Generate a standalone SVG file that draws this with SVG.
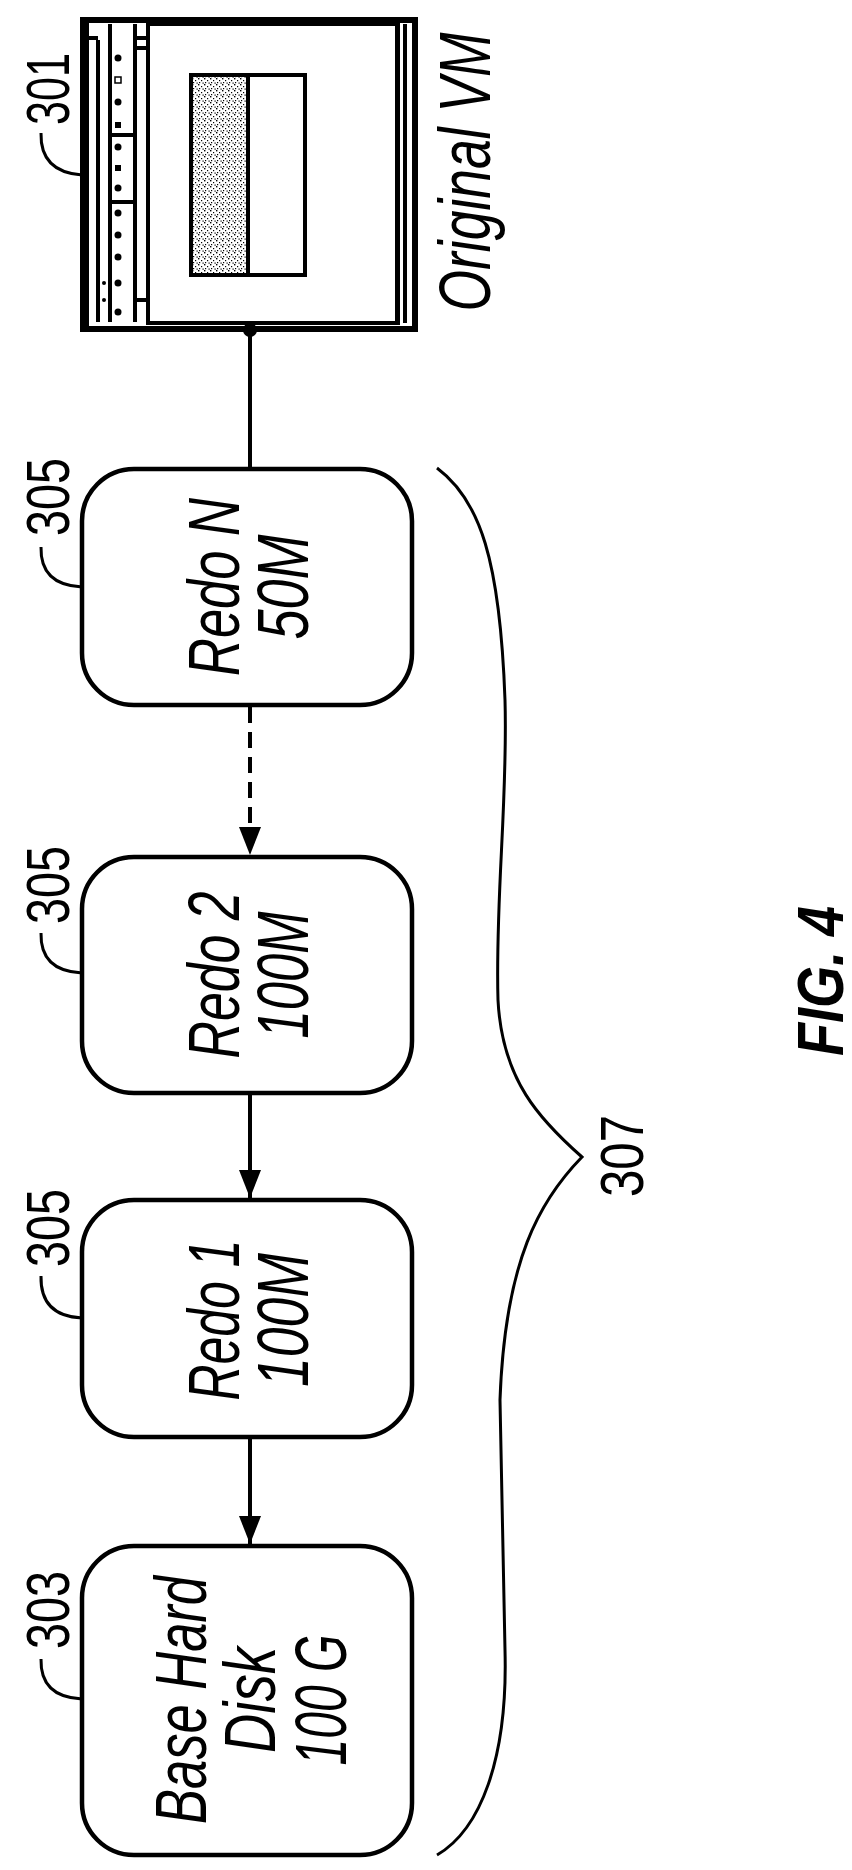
<svg xmlns="http://www.w3.org/2000/svg" width="852" height="1870" viewBox="0 0 852 1870">
<style>
.t{font-family:"Liberation Sans",Arial,sans-serif;font-style:italic;font-size:72px;fill:#000}
.r{font-family:"Liberation Sans",Arial,sans-serif;font-size:62px;fill:#000}
.box{fill:#fff;stroke:#000;stroke-width:4.5}
.ln{fill:none;stroke:#000;stroke-width:4}
.lead{fill:none;stroke:#000;stroke-width:3}
</style>
<defs>
<marker id="ah" viewBox="0 0 28 22" refX="28" refY="11" markerWidth="28" markerHeight="22" markerUnits="userSpaceOnUse" orient="auto">
<path d="M0 0 L28 11 L0 22 Z" fill="#000"/>
</marker>
<pattern id="stip" width="6" height="6" patternUnits="userSpaceOnUse">
<rect width="6" height="6" fill="#fff"/>
<rect x="0" y="0" width="1.4" height="1.4" fill="#000"/>
<rect x="3" y="2" width="1.2" height="1.2" fill="#000"/>
<rect x="1" y="4" width="1.2" height="1.2" fill="#000"/>
<rect x="4.5" y="4.5" width="1.2" height="1.2" fill="#000"/>
</pattern>
</defs>

<g id="vm">
<rect x="83" y="20" width="332" height="309" fill="#fff" stroke="#000" stroke-width="6"/>
<rect x="83" y="20" width="6" height="309" fill="#000"/>
<line x1="98" y1="40" x2="98" y2="322" class="ln" stroke-width="2"/>
<line x1="110" y1="24" x2="110" y2="322" class="ln" stroke-width="2"/>
<line x1="135" y1="24" x2="135" y2="322" class="ln" stroke-width="2"/>
<rect x="148" y="24" width="250" height="299" fill="#fff" stroke="#000" stroke-width="4"/>
<line x1="110" y1="135" x2="135" y2="135" class="ln" stroke-width="2"/>
<line x1="110" y1="202" x2="135" y2="202" class="ln" stroke-width="2"/>
<line x1="135" y1="300" x2="148" y2="300" class="ln" stroke-width="3"/>
<line x1="135" y1="38" x2="148" y2="38" class="ln" stroke-width="2"/>
<line x1="135" y1="48" x2="148" y2="48" class="ln" stroke-width="2"/>
<line x1="89" y1="38" x2="98" y2="38" class="ln" stroke-width="2"/>
<rect x="404" y="87" width="3" height="4" fill="#000"/>
<rect x="404" y="96" width="3" height="4" fill="#000"/>
<line x1="397" y1="24" x2="397" y2="323" class="ln" stroke-width="2"/>
<line x1="405" y1="24" x2="405" y2="323" class="ln" stroke-width="2"/>
<g fill="#000">
<circle cx="118" cy="58" r="3.5"/>
<rect x="115" y="77" width="6" height="6" fill="#fff" stroke="#000" stroke-width="1.5"/>
<circle cx="118" cy="102" r="3.5"/>
<rect x="115" y="122" width="6" height="6"/>
<circle cx="118" cy="147" r="3.5"/>
<rect x="115" y="165" width="6" height="6"/>
<circle cx="118" cy="188" r="3.5"/>
<circle cx="118" cy="213" r="3.5"/>
<circle cx="118" cy="235" r="3.5"/>
<circle cx="118" cy="257" r="3.5"/>
<circle cx="118" cy="283" r="3.5"/>
<circle cx="118" cy="312" r="3.5"/>
<circle cx="104" cy="283" r="2"/>
<circle cx="104" cy="300" r="2"/>
</g>
<rect x="191" y="75" width="114" height="200" fill="#fff" stroke="#000" stroke-width="4"/>
<rect x="193" y="77" width="55" height="196" fill="url(#stip)"/>
<line x1="248" y1="75" x2="248" y2="275" class="ln"/>
<text class="t" transform="translate(490 172) rotate(-90)" text-anchor="middle" textLength="279" lengthAdjust="spacingAndGlyphs">Original VM</text>
<path class="lead" d="M41 133 Q40 172 82 175"/>
<text class="r" transform="translate(69 89) rotate(-90)" text-anchor="middle" textLength="72" lengthAdjust="spacingAndGlyphs">301</text>
</g>

<g id="redoN">
<rect class="box" x="82" y="469" width="330" height="236" rx="52"/>
<text class="t" transform="translate(239 587) rotate(-90)" text-anchor="middle" textLength="178" lengthAdjust="spacingAndGlyphs">Redo N</text>
<text class="t" transform="translate(308 587) rotate(-90)" text-anchor="middle" textLength="105" lengthAdjust="spacingAndGlyphs">50M</text>
<path class="lead" d="M41 547 Q40 585 82 587"/>
<text class="r" transform="translate(69 497) rotate(-90)" text-anchor="middle" textLength="78" lengthAdjust="spacingAndGlyphs">305</text>
</g>

<g id="redo2">
<rect class="box" x="82" y="857" width="330" height="236" rx="52"/>
<text class="t" transform="translate(239 975) rotate(-90)" text-anchor="middle" textLength="167" lengthAdjust="spacingAndGlyphs">Redo 2</text>
<text class="t" transform="translate(308 975) rotate(-90)" text-anchor="middle" textLength="127" lengthAdjust="spacingAndGlyphs">100M</text>
<path class="lead" d="M41 933 Q40 971 82 973"/>
<text class="r" transform="translate(69 885) rotate(-90)" text-anchor="middle" textLength="78" lengthAdjust="spacingAndGlyphs">305</text>
</g>

<g id="redo1">
<rect class="box" x="82" y="1200" width="330" height="237" rx="52"/>
<text class="t" transform="translate(239 1320) rotate(-90)" text-anchor="middle" textLength="161" lengthAdjust="spacingAndGlyphs">Redo 1</text>
<text class="t" transform="translate(308 1320) rotate(-90)" text-anchor="middle" textLength="134" lengthAdjust="spacingAndGlyphs">100M</text>
<path class="lead" d="M41 1276 Q40 1316 82 1318"/>
<text class="r" transform="translate(69 1228) rotate(-90)" text-anchor="middle" textLength="78" lengthAdjust="spacingAndGlyphs">305</text>
</g>

<g id="base">
<rect class="box" x="82" y="1546" width="330" height="309" rx="52"/>
<text class="t" transform="translate(206 1700) rotate(-90)" text-anchor="middle" textLength="248" lengthAdjust="spacingAndGlyphs">Base Hard</text>
<text class="t" transform="translate(275 1700) rotate(-90)" text-anchor="middle" textLength="106" lengthAdjust="spacingAndGlyphs">Disk</text>
<text class="t" transform="translate(346 1700) rotate(-90)" text-anchor="middle" textLength="131" lengthAdjust="spacingAndGlyphs">100 G</text>
<path class="lead" d="M41 1659 Q40 1697 82 1699"/>
<text class="r" transform="translate(69 1610) rotate(-90)" text-anchor="middle" textLength="78" lengthAdjust="spacingAndGlyphs">303</text>
</g>

<g id="brace307">
<path class="lead" d="M437 468 C480 500 500 560 505 700 C508 800 495 900 498 1000 C502 1080 540 1120 582 1157 C540 1200 505 1260 500 1400 L505 1650 C508 1760 480 1830 437 1855"/>
<text class="r" transform="translate(643 1156) rotate(-90)" text-anchor="middle" textLength="82" lengthAdjust="spacingAndGlyphs">307</text>
</g>

<g id="connectors">
<circle cx="250" cy="330" r="7" fill="#000"/>
<line x1="250" y1="330" x2="250" y2="469" class="ln"/>
<line x1="250" y1="707" x2="250" y2="855" class="ln" stroke-dasharray="16 9" marker-end="url(#ah)"/>
<line x1="250" y1="1095" x2="250" y2="1198" class="ln" marker-end="url(#ah)"/>
<line x1="250" y1="1439" x2="250" y2="1544" class="ln" marker-end="url(#ah)"/>
</g>

<text transform="translate(843 981) rotate(-90)" text-anchor="middle" textLength="150" lengthAdjust="spacingAndGlyphs" style="font-family:'Liberation Sans',Arial,sans-serif;font-weight:bold;font-style:italic;font-size:64px">FIG. 4</text>
</svg>
